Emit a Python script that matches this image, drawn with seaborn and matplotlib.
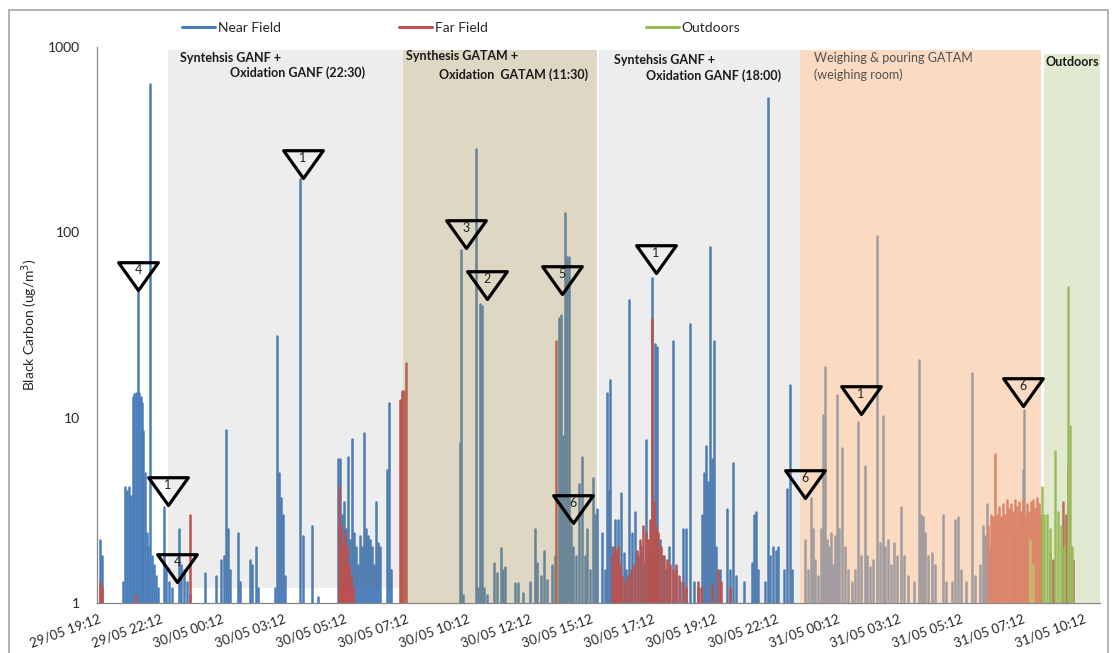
import matplotlib
matplotlib.use("Agg")
import matplotlib.pyplot as plt
import seaborn as sns
import pandas as pd
from matplotlib.path import Path
from matplotlib.lines import Line2D
from matplotlib.patches import Rectangle
from matplotlib.ticker import NullLocator

# readings, time in hours after 29/05 19:12, black carbon in ug/m3
nf_hours = [
    0.08, 0.16, 0.97, 1.05, 1.13, 1.21, 1.29, 1.36, 1.42, 1.48,
    1.54, 1.60, 1.66, 1.71, 1.77, 1.83, 1.89, 1.95, 2.03, 2.10,
    2.18, 2.26, 2.34, 2.57, 2.65, 2.77, 2.88, 3.16, 3.23, 3.35,
    3.47, 3.58,
    4.17, 4.60, 4.79, 4.91, 4.99, 5.06, 5.14, 5.45, 5.53, 5.92,
    6.00, 6.16, 6.23, 6.90, 6.97, 7.05, 7.13, 7.21, 7.28, 7.87,
    7.99, 8.34, 8.57,
    9.35, 9.43, 9.51, 9.58, 9.66, 9.74, 9.82, 9.89, 9.97, 10.05,
    10.13, 10.21, 10.28, 10.36, 10.44, 10.52, 10.60, 10.67, 10.75, 10.83,
    10.91, 10.99, 11.26, 11.34, 11.41,
    14.10, 14.16, 14.22, 14.73, 14.80, 14.88, 14.96, 15.04, 15.15, 15.43,
    15.54, 15.70, 15.78, 15.86, 16.24, 16.36, 16.56, 16.83, 17.02, 17.10,
    17.26, 17.37, 17.49, 17.69, 17.80, 17.96, 18.04, 18.12, 18.19, 18.27,
    18.35, 18.43, 18.50, 18.62, 18.74, 18.86, 18.97, 19.05, 19.17, 19.28,
    19.36, 19.44,
    19.63, 19.75, 19.83, 19.89, 19.95, 20.02, 20.14, 20.26, 20.37, 20.49,
    20.57, 20.69, 20.81, 20.92, 21.04, 21.15, 21.27, 21.35, 21.46, 21.58,
    21.70, 21.78, 21.89, 22.01, 22.13, 22.25, 22.40, 22.52, 22.67, 22.79,
    22.91, 23.06, 23.22, 23.37, 23.53, 23.61, 23.69, 23.77, 23.84, 23.92,
    24.00, 24.08, 24.23, 24.50, 24.62, 24.74, 24.86, 25.17, 25.48, 25.56,
    25.63, 25.71, 25.98, 26.10, 26.18, 26.30, 26.41, 26.49, 26.73, 26.84,
    26.96, 27.04,
    27.54, 27.66, 27.78, 27.85, 27.93, 28.05, 28.17, 28.24, 28.32, 28.40,
    28.48, 28.55, 28.63, 28.71, 28.79, 28.86, 28.98, 29.10, 29.22, 29.38,
    29.49, 29.61, 29.72, 29.88, 29.96, 30.07, 30.19, 30.35, 30.46, 30.58,
    30.66, 30.78, 30.89, 31.01, 31.13, 31.28, 31.40, 31.55, 31.79, 31.98,
    32.06, 32.14, 32.21, 32.33, 32.49, 32.61, 32.92, 33.03, 33.27, 33.39,
    33.50, 33.62, 33.81, 34.05, 34.16, 34.36, 34.48, 34.55, 34.63, 34.75,
    34.87, 35.72, 35.92, 36.03, 36.07, 36.15,
]
nf_bc = [
    2.2, 1.8, 1.3, 4.2, 4.0, 4.2, 3.8, 13.0, 13.5, 13.6,
    48, 13.6, 13.0, 12.0, 8.5, 5.0, 2.4, 2.0, 630, 1.8,
    1.6, 1.4, 1.2, 3.3, 1.5, 1.3, 1.2, 2.5, 1.6, 1.5,
    1.3, 1.1,
    1.45, 1.4, 1.7, 1.8, 8.6, 2.5, 1.5, 2.4, 1.3, 1.7,
    1.6, 2.0, 1.2, 1.2, 27.5, 5.0, 3.7, 3.0, 1.4, 195,
    2.3, 2.6, 1.08,
    6.0, 6.0, 3.0, 3.5, 2.5, 6.1, 2.2, 7.7, 2.4, 2.0,
    1.6, 2.3, 2.0, 8.3, 2.5, 2.3, 2.2, 2.0, 1.6, 3.5,
    2.1, 2.0, 5.2, 12.0, 1.5,
    7.3, 80, 1.1, 280, 1.2, 41, 40, 1.2, 1.1, 1.65,
    1.45, 1.98, 1.5, 1.56, 1.28, 1.28, 1.13, 1.3, 2.5, 1.65,
    1.4, 1.9, 1.33, 1.6, 1.8, 34.5, 36, 8.0, 127, 74,
    74, 2.6, 2.0, 1.8, 4.4, 6.1, 1.8, 2.5, 1.5, 4.7,
    3.0, 3.2,
    2.4, 1.5, 13.6, 4.0, 16, 2.0, 2.8, 2.8, 3.9, 1.85,
    1.5, 43, 2.4, 3.1, 1.8, 2.0, 1.6, 7.6, 2.0, 57,
    25, 24, 2.2, 1.8, 1.5, 2.0, 26, 1.5, 1.3, 2.5,
    2.5, 32, 1.3, 1.2, 3.0, 5.0, 7.0, 4.5, 83, 6.0,
    26, 2.0, 1.5, 3.2, 1.5, 5.7, 1.4, 1.3, 1.65, 3.0,
    3.1, 1.5, 1.3, 530, 1.8, 2.0, 1.9, 2.0, 1.5, 4.1,
    15, 1.5,
    2.2, 1.5, 3.7, 2.5, 1.7, 1.4, 2.5, 10.3, 18.8, 2.2,
    2.0, 2.4, 1.6, 2.3, 13.2, 2.5, 6.9, 2.0, 1.5, 1.3,
    1.5, 9.5, 1.8, 5.5, 1.8, 1.56, 1.7, 95, 2.1, 10.2,
    2.0, 2.2, 1.6, 2.1, 1.8, 3.3, 1.8, 1.4, 1.3, 20.5,
    3.0, 2.9, 2.4, 1.8, 1.85, 1.6, 3.0, 1.3, 1.3, 2.8,
    2.9, 1.5, 1.3, 17.5, 1.4, 1.6, 2.6, 2.3, 3.4, 2.0,
    2.4, 2.4, 3.0, 5.2, 11.0, 2.8,
]

ff_hours = [
    0.08, 0.16, 1.48, 3.58, 9.39, 9.47, 9.54, 9.62, 9.70, 9.78,
    9.86, 9.93, 11.76, 11.84, 11.92, 12.00, 17.84,
    20.02, 20.10, 20.18, 20.26, 20.34, 20.41, 20.53, 20.65, 20.77, 20.88,
    21.00, 21.11, 21.23, 21.35, 21.42, 21.50, 21.58, 21.66, 21.74, 21.82,
    21.93, 22.05, 22.17, 22.29, 22.40, 22.52, 22.63, 22.79, 22.91, 23.37,
    23.49, 23.92, 24.15, 24.27, 24.62,
    34.67, 34.79, 34.87, 34.94, 35.02, 35.10, 35.18, 35.25, 35.33, 35.41,
    35.49, 35.57, 35.64, 35.72, 35.80, 35.88, 35.96, 36.03, 36.11, 36.19,
    36.27, 36.34, 36.42, 36.50, 36.58, 36.66, 36.74, 37.09, 37.20, 37.59,
    37.71, 37.79, 37.91, 37.98,
]
ff_bc = [
    1.28, 1.2, 1.1, 3.0, 4.2, 2.6, 2.1, 2.4, 2.0, 1.6,
    1.4, 1.2, 12.5, 14, 14, 19.7, 26,
    1.8, 2.0, 1.9, 2.0, 1.6, 1.4, 1.3, 1.4, 1.5, 1.6,
    1.9, 2.2, 2.6, 2.4, 2.2, 2.8, 34, 3.5, 2.6, 2.4,
    2.0, 1.8, 1.7, 1.6, 1.5, 1.6, 1.4, 1.3, 1.2, 1.3,
    1.2, 1.25, 1.5, 1.3, 1.2,
    2.6, 3.0, 2.9, 6.4, 3.0, 3.3, 2.9, 3.4, 3.0, 3.6,
    3.2, 3.4, 3.1, 3.6, 3.3, 3.5, 3.1, 3.6, 3.0, 3.4,
    3.1, 3.5, 3.6, 3.2, 3.7, 3.4, 3.0, 1.85, 1.7, 3.5,
    3.0, 5.5, 2.0, 1.7,
]

od_hours = [36.31, 36.42, 36.77, 36.85, 36.97, 37.09, 37.28, 37.40, 37.52, 37.63, 37.79, 37.87, 37.94]
od_bc = [2.2, 1.6, 4.2, 3.0, 3.0, 2.5, 6.6, 3.1, 2.6, 2.0, 51, 9.0, 2.0]

series_names = ["Near Field", "Far Field", "Outdoors"]
series_colors = ["#4a7ebb", "#c0504d", "#9bbb59"]

tick_labels = [
    "29/05 19:12", "29/05 22:12", "30/05 00:12", "30/05 03:12", "30/05 05:12",
    "30/05 07:12", "30/05 10:12", "30/05 12:12", "30/05 15:12", "30/05 17:12",
    "30/05 19:12", "30/05 22:12", "31/05 00:12", "31/05 03:12", "31/05 05:12",
    "31/05 07:12", "31/05 10:12",
]

# activity periods (hours)
period_start = [2.73, 11.88, 19.52, 27.35, 36.85]
period_end = [11.88, 19.44, 27.35, 36.74, 39.03]
period_line1 = ["Syntehsis GANF +", "Synthesis GATAM +", "Syntehsis GANF +",
                "Weighing & pouring GATAM", "Outdoors"]
period_line2 = ["Oxidation GANF (22:30)", "Oxidation  GATAM (11:30)",
                "Oxidation GANF (18:00)", "(weighing room)", ""]

# numbered event markers
mark_hours = [1.56, 2.73, 3.08, 7.99, 14.34, 15.15, 18.08, 18.50, 21.74, 27.54, 29.72, 36.03]
mark_bc = [48.9, 3.38, 1.30, 197, 82, 43.7, 46.5, 2.70, 60.4, 3.69, 10.5, 11.6]
mark_labels = ["4", "1", "4", "1", "3", "2", "5", "6", "1", "6", "1", "6"]

assert len(nf_hours) == len(nf_bc)
assert len(ff_hours) == len(ff_bc)
assert len(od_hours) == len(od_bc)

# each reading drawn as a stem from the axis floor
rows = []
for name, hrs, vals in zip(series_names, [nf_hours, ff_hours, od_hours], [nf_bc, ff_bc, od_bc]):
    for i, (h, v) in enumerate(zip(hrs, vals)):
        rows.append((name, f"{name}-{i}", h, 1.0))
        rows.append((name, f"{name}-{i}", h, v))
df = pd.DataFrame(rows, columns=["series", "reading", "hours", "bc"])

sns.set_style("white")
plt.rcParams["font.family"] = ["Lato", "DejaVu Sans"]

fig = plt.figure(figsize=(11.12, 6.53), dpi=100)
ax = fig.add_axes([0.0872, 0.0766, 0.9018, 0.8514])
ax.set_yscale("log")

sns.lineplot(data=df, x="hours", y="bc", hue="series", units="reading", estimator=None,
             hue_order=series_names, palette=series_colors, linewidth=1.8,
             legend=False, ax=ax)

ax.set_xlim(-0.04, 39.03)
ax.set_ylim(1, 1000)
ax.set_yticks([1, 10, 100, 1000])
ax.set_yticklabels(["1", "10", "100", "1000"])
ax.yaxis.set_minor_locator(NullLocator())
ax.set_xticks([i * 2.4 for i in range(len(tick_labels))])
ax.set_xticklabels(tick_labels, rotation=20, ha="right", rotation_mode="anchor")
ax.tick_params(axis="x", labelsize=9.5, length=4, width=0.8, color="#868686", pad=3)
ax.tick_params(axis="y", labelsize=10, length=4, width=0.8, color="#868686", pad=8)
ax.set_xlabel("")
ax.set_ylabel("Black Carbon (ug/m$^3$)", fontsize=10, labelpad=6)
for side in ["top", "right"]:
    ax.spines[side].set_visible(False)
for side in ["left", "bottom"]:
    ax.spines[side].set_color("#868686")
    ax.spines[side].set_linewidth(0.9)

# translucent period shading over the data
shade_colors = ["#6e6e6e", "#9e8d56", "#6e6e6e", "#f7b985", "#9ebc69"]
shade_alpha = [0.12, 0.35, 0.12, 0.5, 0.3]
shade_bottom = [0.027, 0, 0, 0, 0]
shade_top = [0.995, 0.995, 0.995, 0.995, 0.988]
for s, e, c, a, b, t in zip(period_start, period_end, shade_colors, shade_alpha, shade_bottom, shade_top):
    ax.axvspan(s, e, ymin=b, ymax=t, facecolor=c, alpha=a, lw=0, zorder=3)

xa = ax.get_xaxis_transform()
text1_x = [3.19, 12.0, 20.10, 27.89, 36.93]
text1_y = [0.980, 0.984, 0.977, 0.980, 0.973]
text2_x = [5.14, 13.28, 21.35, 27.89, 36.93]
text2_y = [0.953, 0.951, 0.948, 0.951, 0.951]
text_weight = ["bold", "bold", "bold", "normal", "bold"]
text_color = ["#1a1a1a", "#1a1a1a", "#1a1a1a", "#505050", "#1a1a1a"]
for i in range(len(period_line1)):
    ax.text(text1_x[i], text1_y[i], period_line1[i], transform=xa, fontsize=9,
            fontweight=text_weight[i], color=text_color[i], va="center", ha="left", zorder=6)
    ax.text(text2_x[i], text2_y[i], period_line2[i], transform=xa, fontsize=9,
            fontweight=text_weight[i], color=text_color[i], va="center", ha="left", zorder=6)

# inverted triangles with their apex on the marked peak
tri = Path([(-1, 1.4), (1, 1.4), (0, 0), (-1, 1.4)],
           [Path.MOVETO, Path.LINETO, Path.LINETO, Path.CLOSEPOLY])
ax.plot(mark_hours, mark_bc, ls="none", marker=tri, ms=40, mfc="none", mec="black",
        mew=2.3, zorder=7, clip_on=False)
for h, v, lbl in zip(mark_hours, mark_bc, mark_labels):
    ax.annotate(lbl, (h, v), xytext=(0, 14.5), textcoords="offset points",
                ha="center", va="center", fontsize=9, color="#222222", zorder=8)

# legend entries placed like the original, one per series
legend_x = [169 / 1112, 386 / 1112, 633 / 1112]
for name, c, lx in zip(series_names, series_colors, legend_x):
    leg = fig.legend([Line2D([], [], color=c, lw=2.2)], [name], loc="center left",
                     bbox_to_anchor=(lx, 0.957), frameon=False, fontsize=10,
                     handlelength=2.4, handletextpad=0.2)

fig.add_artist(Rectangle((9 / 1112, -0.05), 1099 / 1112, 1.05 - 10 / 653,
                         transform=fig.transFigure, fill=False, edgecolor="#a6a6a6", lw=1.2))

fig.savefig("out.png", dpi=100)
